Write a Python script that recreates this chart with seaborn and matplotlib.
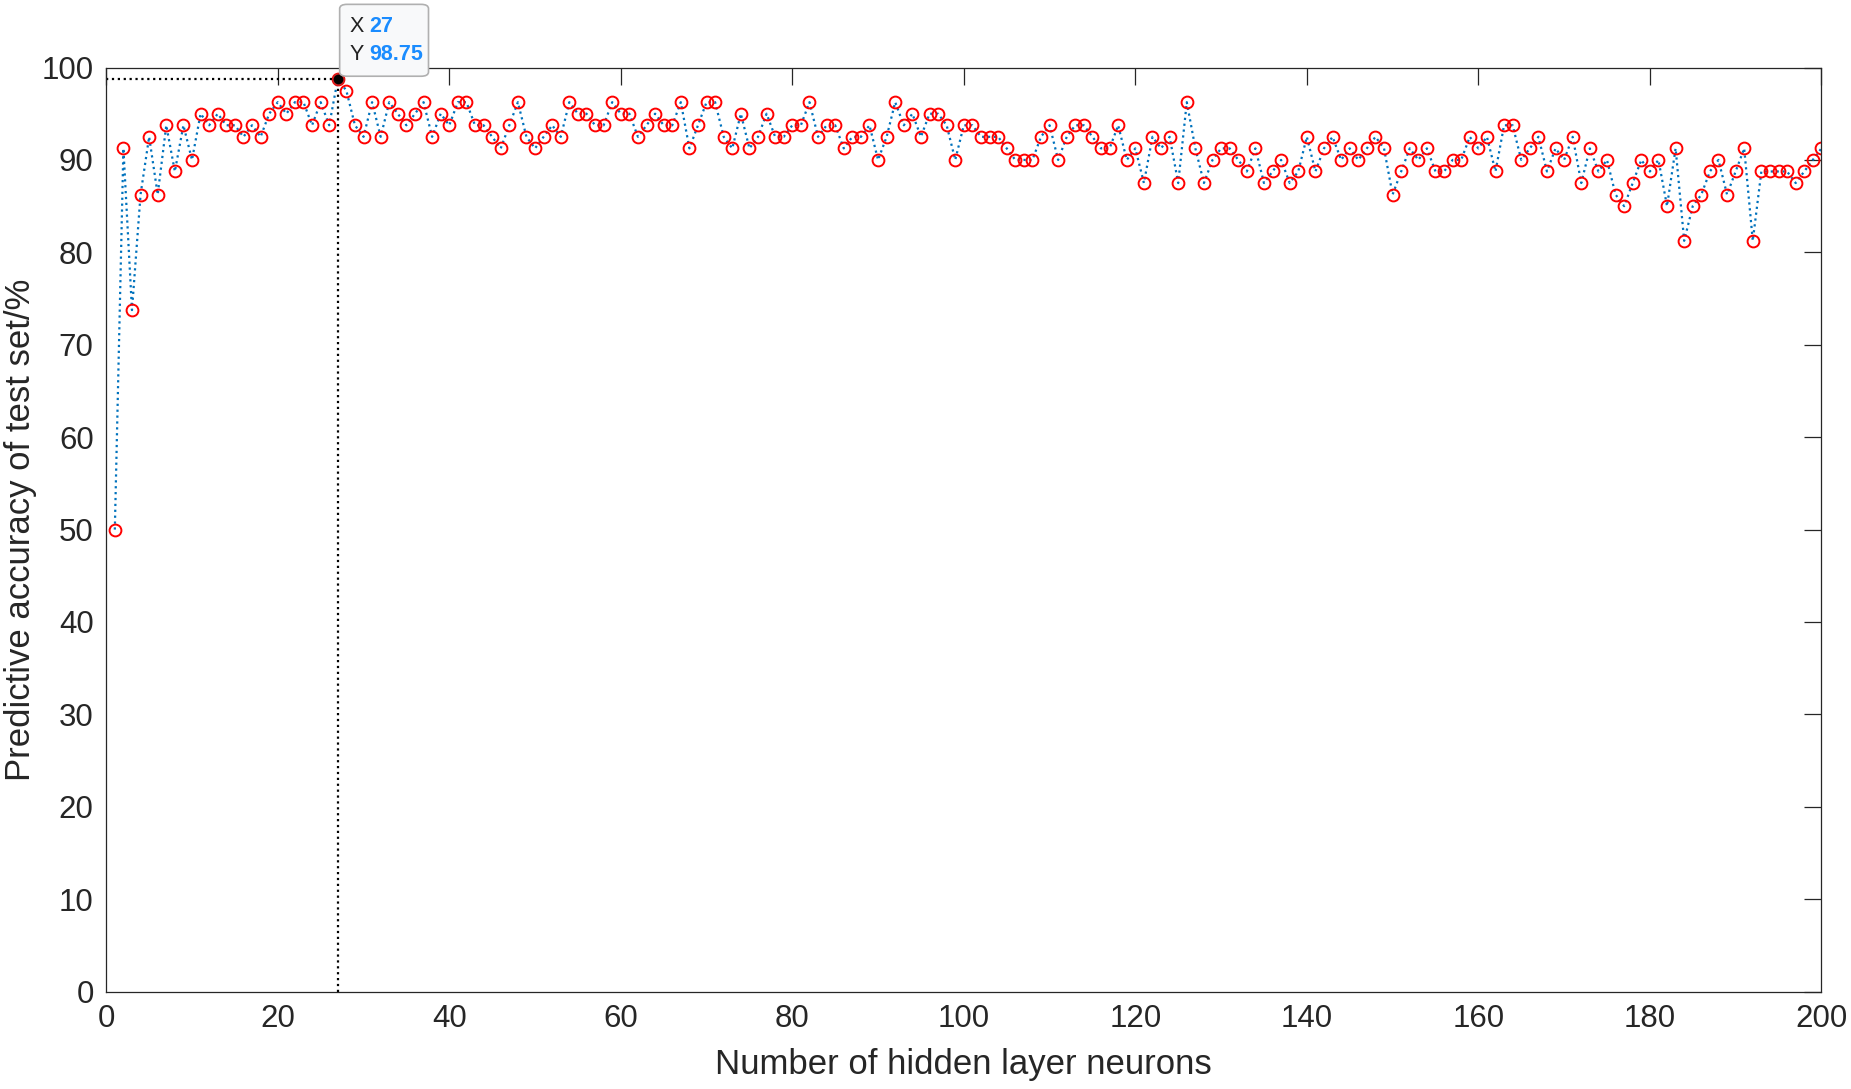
import numpy as np
import pandas as pd
import matplotlib.pyplot as plt
import seaborn as sns
from matplotlib.patches import FancyBboxPatch

# Datos (precision en test set, pasos de 1.25 %)
neuronas = list(range(1, 201))
precision = [
    50, 91.25, 73.75, 86.25, 92.5, 86.25, 93.75, 88.75, 93.75, 90,
    95, 93.75, 95, 93.75, 93.75, 92.5, 93.75, 92.5, 95, 96.25,
    95, 96.25, 96.25, 93.75, 96.25, 93.75, 98.75, 97.5, 93.75, 92.5,
    96.25, 92.5, 96.25, 95, 93.75, 95, 96.25, 92.5, 95, 93.75,
    96.25, 96.25, 93.75, 93.75, 92.5, 91.25, 93.75, 96.25, 92.5, 91.25,
    92.5, 93.75, 92.5, 96.25, 95, 95, 93.75, 93.75, 96.25, 95,
    95, 92.5, 93.75, 95, 93.75, 93.75, 96.25, 91.25, 93.75, 96.25,
    96.25, 92.5, 91.25, 95, 91.25, 92.5, 95, 92.5, 92.5, 93.75,
    93.75, 96.25, 92.5, 93.75, 93.75, 91.25, 92.5, 92.5, 93.75, 90,
    92.5, 96.25, 93.75, 95, 92.5, 95, 95, 93.75, 90, 93.75,
    93.75, 92.5, 92.5, 92.5, 91.25, 90, 90, 90, 92.5, 93.75,
    90, 92.5, 93.75, 93.75, 92.5, 91.25, 91.25, 93.75, 90, 91.25,
    87.5, 92.5, 91.25, 92.5, 87.5, 96.25, 91.25, 87.5, 90, 91.25,
    91.25, 90, 88.75, 91.25, 87.5, 88.75, 90, 87.5, 88.75, 92.5,
    88.75, 91.25, 92.5, 90, 91.25, 90, 91.25, 92.5, 91.25, 86.25,
    88.75, 91.25, 90, 91.25, 88.75, 88.75, 90, 90, 92.5, 91.25,
    92.5, 88.75, 93.75, 93.75, 90, 91.25, 92.5, 88.75, 91.25, 90,
    92.5, 87.5, 91.25, 88.75, 90, 86.25, 85, 87.5, 90, 88.75,
    90, 85, 91.25, 81.25, 85, 86.25, 88.75, 90, 86.25, 88.75,
    91.25, 81.25, 88.75, 88.75, 88.75, 88.75, 87.5, 88.75, 90, 91.25,
]
xticks = list(range(0, 201, 20))
yticks = list(range(0, 101, 10))

df = pd.DataFrame({'neuronas': neuronas, 'precision': precision})

sns.set_style('white')
plt.rcParams['font.family'] = ['Liberation Sans', 'DejaVu Sans']

fig = plt.figure(figsize=(18.51, 10.89), dpi=100)
ax = fig.add_axes([0.0574, 0.0894, 0.9266, 0.8486])

# Linea punteada azul con circulos rojos
sns.lineplot(data=df, x='neuronas', y='precision', ax=ax, color='#0072BD',
             linestyle=':', linewidth=1.6, marker='o', markersize=8.5,
             markerfacecolor='none', markeredgecolor='#ff0000', markeredgewidth=1.4)

# Data tip en el maximo
i_max = int(np.argmax(precision))
x_max, y_max = neuronas[i_max], precision[i_max]
ax.plot([0, x_max], [y_max, y_max], color='black', linestyle=':', linewidth=1.6)
ax.plot([x_max, x_max], [0, y_max], color='black', linestyle=':', linewidth=1.6)
ax.plot([x_max], [y_max], marker='o', markersize=8, color='black',
        markeredgecolor='#cc2222', markeredgewidth=1, zorder=5)

caja = FancyBboxPatch((0.1835, 0.930), 0.048, 0.066, transform=fig.transFigure,
                      boxstyle='round,pad=0,rounding_size=0.004',
                      facecolor='#f8f9fa', edgecolor='#b0b0b0', linewidth=1.2,
                      zorder=10)
fig.patches.append(caja)
fig.text(0.189, 0.976, 'X', fontsize=15.5, color='#222222', va='center', zorder=11)
fig.text(0.1995, 0.976, str(x_max), fontsize=15.5, color='#1a8cff',
         fontweight='bold', va='center', zorder=11)
fig.text(0.189, 0.950, 'Y', fontsize=15.5, color='#222222', va='center', zorder=11)
fig.text(0.1995, 0.950, f'{y_max:.2f}', fontsize=15.5, color='#1a8cff',
         fontweight='bold', va='center', zorder=11)

# Ajustes de ejes estilo MATLAB
ax.set_xlim(0, 200)
ax.set_ylim(0, 100)
ax.set_xticks(xticks)
ax.set_yticks(yticks)
ax.set_xlabel('Number of hidden layer neurons', fontsize=25, color='#262626', labelpad=10)
ax.set_ylabel('Predictive accuracy of test set/%', fontsize=25, color='#262626', labelpad=3)
ax.tick_params(direction='in', length=12, width=0.9, top=True, right=True,
               labelsize=22.5, colors='#262626', pad=9)
for s in ax.spines.values():
    s.set_color('#262626')
    s.set_linewidth(0.9)

fig.savefig('out.png', dpi=100)
